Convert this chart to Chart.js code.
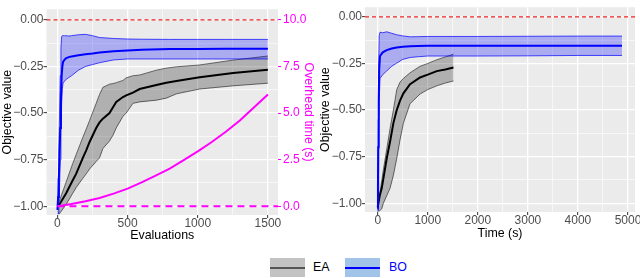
<!DOCTYPE html>
<html><head><meta charset="utf-8">
<script src="https://cdn.jsdelivr.net/npm/chart.js@4/dist/chart.umd.min.js"></script>
<style>
html,body{margin:0;padding:0;background:#fff;width:640px;height:278px;overflow:hidden;font-family:'Liberation Sans',Arial,sans-serif;}
#wl{position:absolute;left:0;top:0;width:318px;height:250px;}
#wr{position:absolute;left:318px;top:0;width:322px;height:250px;}
.key{position:absolute;top:258px;width:35px;height:19px;}
.key i{position:absolute;left:0;right:0;top:8.5px;height:2px;display:block;}
.lab{position:absolute;top:259px;font-size:12.4px;line-height:16px;}
</style></head><body>
<div id="wl"><canvas id="cl" width="318" height="250"></canvas></div>
<div id="wr"><canvas id="cr" width="322" height="250"></canvas></div>
<div class="key" style="left:270px;background:#c3c3c3;"><i style="background:#555555;"></i></div>
<div class="lab" style="left:313px;color:#000;">EA</div>
<div class="key" style="left:345px;background:#a2c4e8;"><i style="background:#0000ff;"></i></div>
<div class="lab" style="left:389px;color:#0000ff;">BO</div>
<script>
// ---------- DATA ----------
// Left panel: x = evaluations
const eaEvalX     = [0,14,62,109,133,181,205,229,276,300,324,371,395,419,467,490,538,586,705,776,848,1014,1252,1500];
const eaEvalMean  = [-1.0,-0.99,-0.93,-0.86,-0.826,-0.74,-0.70,-0.655,-0.58,-0.55,-0.53,-0.50,-0.47,-0.44,-0.414,-0.405,-0.39,-0.371,-0.35,-0.337,-0.328,-0.308,-0.285,-0.268];
const eaEvalUpper = [-0.99,-0.97,-0.87,-0.77,-0.723,-0.63,-0.586,-0.54,-0.448,-0.40,-0.362,-0.345,-0.342,-0.337,-0.325,-0.311,-0.30,-0.296,-0.27,-0.259,-0.252,-0.242,-0.216,-0.194];
const eaEvalLower = [-1.03,-1.04,-0.99,-0.93,-0.90,-0.85,-0.826,-0.80,-0.76,-0.74,-0.69,-0.65,-0.62,-0.58,-0.517,-0.50,-0.448,-0.44,-0.431,-0.42,-0.397,-0.371,-0.354,-0.34];

const boEvalX     = [0,5,10,15,20,25,30,35,40,50,60,80,100,150,200,250,300,400,500,600,800,1000,1200,1500];
const boEvalMean  = [-1.02,-0.95,-0.85,-0.72,-0.58,-0.42,-0.30,-0.25,-0.225,-0.215,-0.207,-0.20,-0.197,-0.19,-0.184,-0.18,-0.175,-0.168,-0.164,-0.16,-0.157,-0.156,-0.155,-0.155];
const boEvalUpper = [-0.98,-0.85,-0.70,-0.50,-0.30,-0.15,-0.09,-0.085,-0.085,-0.085,-0.085,-0.087,-0.085,-0.08,-0.078,-0.085,-0.095,-0.10,-0.103,-0.104,-0.105,-0.105,-0.105,-0.105];
const boEvalLower = [-1.04,-1.04,-1.0,-0.9,-0.75,-0.6,-0.45,-0.37,-0.34,-0.33,-0.32,-0.31,-0.30,-0.27,-0.25,-0.24,-0.23,-0.215,-0.21,-0.21,-0.21,-0.21,-0.21,-0.21];

// Overhead time (s) of BO vs evaluations (secondary axis)
const ovhX = [0,100,200,300,400,500,600,700,800,900,1000,1100,1200,1300,1400,1500];
const ovhY = [0,0.12,0.27,0.45,0.68,0.95,1.28,1.65,2.02,2.48,2.95,3.45,4.0,4.6,5.3,6.0];

// Right panel: x = time (s)
const eaTimeX     = [0,40,80,113,180,246,313,380,446,513,646,846,1000,1180,1350,1513];
const eaTimeMean  = [-1.02,-0.96,-0.92,-0.868,-0.76,-0.67,-0.57,-0.50,-0.449,-0.41,-0.361,-0.325,-0.31,-0.291,-0.282,-0.272];
const eaTimeUpper = [-1.0,-0.95,-0.88,-0.82,-0.71,-0.60,-0.50,-0.39,-0.35,-0.33,-0.30,-0.265,-0.25,-0.23,-0.215,-0.20];
const eaTimeLower = [-1.04,-1.04,-1.03,-1.0,-0.96,-0.92,-0.85,-0.76,-0.66,-0.57,-0.466,-0.414,-0.39,-0.37,-0.355,-0.344];

const boTimeX     = [0,5,10,20,30,46,100,180,280,380,500,650,800,1000,2000,3000,4000,4880];
const boTimeMean  = [-1.03,-0.9,-0.7,-0.45,-0.28,-0.21,-0.19,-0.178,-0.17,-0.164,-0.16,-0.157,-0.156,-0.155,-0.155,-0.155,-0.155,-0.155];
const boTimeUpper = [-0.98,-0.8,-0.55,-0.25,-0.1,-0.082,-0.085,-0.08,-0.088,-0.096,-0.102,-0.107,-0.106,-0.105,-0.105,-0.104,-0.103,-0.103];
const boTimeLower = [-1.045,-1.04,-0.95,-0.7,-0.45,-0.33,-0.31,-0.29,-0.265,-0.248,-0.228,-0.218,-0.214,-0.21,-0.21,-0.209,-0.207,-0.207];

// Ticks
const evalTicks = [0,250,500,750,1000,1250,1500];
const timeTicks = [0,500,1000,1500,2000,2500,3000,3500,4000,4500,5000];
const objTicks  = [-1,-0.875,-0.75,-0.625,-0.5,-0.375,-0.25,-0.125,0];
const ovhTicks  = [0,2.5,5,7.5,10];
const optimum = 0;

// ---------- RENDER ----------
Chart.defaults.font.family = "'Liberation Sans', Arial, sans-serif";
Chart.defaults.animation = false;

const FAM = "'Liberation Sans', Arial, sans-serif";
const pts = (xs, ys) => xs.map((x, i) => ({x: x, y: ys[i]}));
const fmtObj = v => { const s = Math.abs(v).toFixed(2); return v < -1e-9 ? '\u2212' + s : s; };
const isMajObj = v => Math.abs(v * 4 - Math.round(v * 4)) < 1e-6;

const bgPlugin = {
  id: 'panelBg',
  beforeDraw(chart) {
    const a = chart.chartArea, ctx = chart.ctx;
    ctx.save(); ctx.fillStyle = '#EBEBEB';
    ctx.fillRect(a.left, a.top, a.right - a.left, a.bottom - a.top);
    ctx.restore();
  }
};

function gridOpts(isMaj) {
  return {
    color: '#ffffff',
    lineWidth: c => (c.tick && isMaj(c.tick.value)) ? 1.3 : 0.6,
    tickColor: c => (c.tick && isMaj(c.tick.value)) ? '#333333' : 'rgba(0,0,0,0)',
    tickWidth: 1, tickLength: 3, drawTicks: true
  };
}

function xScale(min, max, tickList, isMaj, title, titlePadBottom, height) {
  return {
    type: 'linear', position: 'bottom', min: min, max: max,
    afterBuildTicks: s => { s.ticks = tickList.map(v => ({value: v})); },
    afterFit: s => { s.height = height; },
    border: {display: false},
    grid: gridOpts(isMaj),
    ticks: {autoSkip: false, maxRotation: 0, padding: -2, color: '#4d4d4d',
            font: {size: 12, family: FAM},
            callback: v => isMaj(v) ? String(v) : ''},
    title: {display: true, text: title, color: '#000', font: {size: 12.4, family: FAM},
            padding: {top: 0, bottom: titlePadBottom}}
  };
}

function yScale(min, max, width) {
  return {
    type: 'linear', position: 'left', min: min, max: max,
    afterBuildTicks: s => { s.ticks = objTicks.map(v => ({value: v})); },
    afterFit: s => { s.width = width; },
    border: {display: false},
    grid: gridOpts(isMajObj),
    ticks: {autoSkip: false, padding: 0, color: '#4d4d4d', font: {size: 12, family: FAM},
            callback: v => isMajObj(v) ? fmtObj(v) : ''},
    title: {display: true, text: 'Objective value', color: '#000', font: {size: 12.4, family: FAM},
            padding: {top: 0, bottom: 0}}
  };
}

function lineDs(data, color, width, order, extra) {
  return Object.assign({type: 'line', data: data, borderColor: color, backgroundColor: color,
    borderWidth: width, pointRadius: 0, pointHoverRadius: 0, tension: 0, fill: false, order: order}, extra || {});
}

const EA_FILL = 'rgba(0,0,0,0.25)', BO_FILL = 'rgba(0,0,255,0.27)';
const RED = '#ee2222';

// Left chart
const L_XMIN = -78, L_XMAX = 1572, L_YMIN = -1.0466, L_YMAX = 0.057;
new Chart(document.getElementById('cl'), {
  type: 'line',
  data: {datasets: [
    lineDs(pts(eaEvalX, eaEvalUpper), '#333333', 0.7, 10, {fill: 1, backgroundColor: EA_FILL}),
    lineDs(pts(eaEvalX, eaEvalLower), '#333333', 0.7, 10),
    lineDs(pts(eaEvalX, eaEvalMean), '#000000', 2, 8),
    lineDs(pts(boEvalX, boEvalUpper), '#0000ff', 0.7, 6, {fill: 4, backgroundColor: BO_FILL}),
    lineDs(pts(boEvalX, boEvalLower), '#0000ff', 0.7, 6),
    lineDs(pts(boEvalX, boEvalMean), '#0000ff', 2, 4),
    lineDs(pts(ovhX, ovhY), '#ff00ff', 2, 3, {yAxisID: 'y2'}),
    lineDs([{x: 0, y: 0}, {x: L_XMAX, y: 0}], '#ff00ff', 2, 2, {yAxisID: 'y2', borderDash: [7, 5]}),
    lineDs([{x: L_XMIN, y: optimum}, {x: L_XMAX, y: optimum}], RED, 1.2, 1, {borderDash: [4, 3]})
  ]},
  options: {
    responsive: false, animation: false,
    layout: {padding: {top: 2, right: 0, bottom: 0, left: 0}},
    plugins: {legend: {display: false}, tooltip: {enabled: false}},
    scales: {
      x: xScale(L_XMIN, L_XMAX, evalTicks, v => v % 500 === 0, 'Evaluations', 6.5, 35),
      y: yScale(L_YMIN, L_YMAX, 46.5),
      y2: {
        type: 'linear', position: 'right', min: (L_YMIN + 1) * 10, max: (L_YMAX + 1) * 10,
        afterBuildTicks: s => { s.ticks = ovhTicks.map(v => ({value: v})); },
        afterFit: s => { s.width = 40; },
        border: {display: false},
        grid: {drawOnChartArea: false, tickColor: '#ff00ff', tickLength: 3, tickWidth: 1},
        ticks: {autoSkip: false, padding: 2, color: '#ff00ff', font: {size: 12, family: FAM},
                callback: v => v.toFixed(1)},
        title: {display: true, text: 'Overhead time (s)', color: '#ff00ff', font: {size: 12.4, family: FAM},
                padding: {top: 2, bottom: 0}}
      }
    }
  },
  plugins: [bgPlugin]
});

// Right chart
const R_XMIN = -254, R_XMAX = 5140, R_YMIN = -1.047, R_YMAX = 0.052;
new Chart(document.getElementById('cr'), {
  type: 'line',
  data: {datasets: [
    lineDs(pts(eaTimeX, eaTimeUpper), '#333333', 0.7, 10, {fill: 1, backgroundColor: EA_FILL}),
    lineDs(pts(eaTimeX, eaTimeLower), '#333333', 0.7, 10),
    lineDs(pts(eaTimeX, eaTimeMean), '#000000', 2, 8),
    lineDs(pts(boTimeX, boTimeUpper), '#0000ff', 0.7, 6, {fill: 4, backgroundColor: BO_FILL}),
    lineDs(pts(boTimeX, boTimeLower), '#0000ff', 0.7, 6),
    lineDs(pts(boTimeX, boTimeMean), '#0000ff', 2, 4),
    lineDs([{x: R_XMIN, y: optimum}, {x: R_XMAX, y: optimum}], RED, 1.2, 1, {borderDash: [4, 3]})
  ]},
  options: {
    responsive: false, animation: false,
    layout: {padding: {top: 1, right: 5, bottom: 0, left: 0}},
    plugins: {legend: {display: false}, tooltip: {enabled: false}},
    scales: {
      x: xScale(R_XMIN, R_XMAX, timeTicks, v => v % 1000 === 0, 'Time (s)', 8.5, 38),
      y: yScale(R_YMIN, R_YMAX, 47)
    }
  },
  plugins: [bgPlugin]
});
</script>
</body></html>
